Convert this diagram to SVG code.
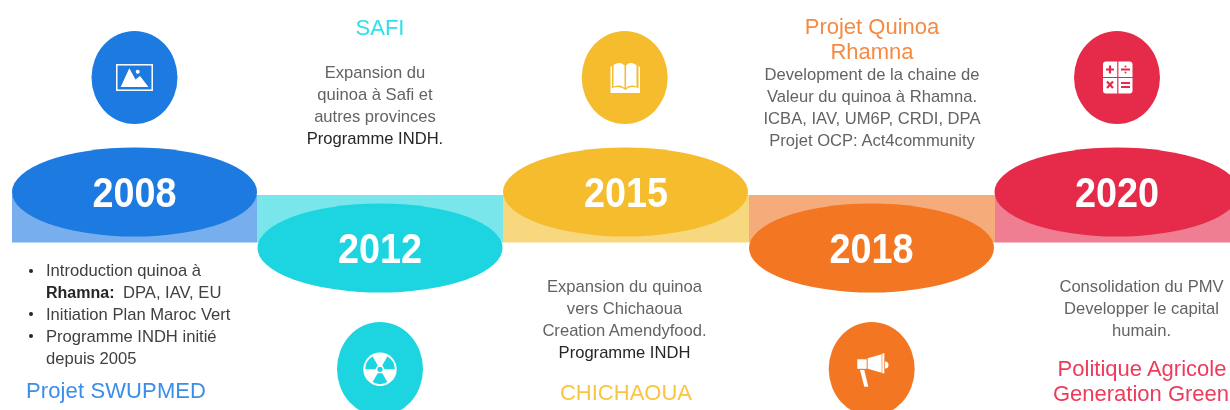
<svg xmlns="http://www.w3.org/2000/svg" width="1230" height="410" viewBox="0 0 1230 410">
<style>
text{font-family:"Liberation Sans",Arial,sans-serif}
.y{font-size:42px;font-weight:700;fill:#fff;text-anchor:middle}
.b{font-size:16.6px;fill:#636363;text-anchor:middle}
.l{font-size:16.6px;fill:#404040}
.h{font-size:22px;text-anchor:middle}
.w{fill:#fff}
.o{fill:none;stroke:#fff}
</style>
<defs>
<filter id="s" x="0" y="0" width="100%" height="100%"><feGaussianBlur stdDeviation="0.5"/></filter>
</defs>
<rect width="1230" height="410" fill="#fff"/>
<g filter="url(#s)">
<g id="connectors">
<rect x="12" y="195" width="245" height="47.500" fill="#76aeee"/>
<rect x="257" y="195" width="246" height="47.500" fill="#78e6ea"/>
<rect x="503" y="195" width="246" height="47.500" fill="#f8d87f"/>
<rect x="749" y="195" width="246" height="47.500" fill="#f6ac7a"/>
<rect x="995" y="195" width="235" height="47.500" fill="#f07e92"/>
</g>
<g id="node-2008">
<ellipse cx="134.500" cy="192" rx="122.500" ry="44.500" fill="#1c7ae0"/>
<text class="y" x="134.500" y="206.500" textLength="84" lengthAdjust="spacingAndGlyphs">2008</text>
<ellipse cx="134.500" cy="77.500" rx="43" ry="46.500" fill="#1c7ae0"/>
<rect x="116.800" y="64.800" width="35.400" height="25.400" class="o" stroke-width="1.500"/>
<path class="w" d="M120.700 87 L129.300 68.300 L135.500 79.500 L140 76 L148.500 87Z"/>
<circle class="w" cx="137.700" cy="71.700" r="2"/>
<text class="l"><tspan x="46" y="276">Introduction quinoa à</tspan><tspan x="46" y="298" font-weight="700" font-size="16" fill="#262626">Rhamna:</tspan><tspan x="123" y="298">DPA, IAV, EU</tspan><tspan x="46" y="320">Initiation Plan Maroc Vert</tspan><tspan x="46" y="342">Programme INDH initié</tspan><tspan x="46" y="364">depuis 2005</tspan></text>
<circle cx="31" cy="271" r="2" fill="#262626"/>
<circle cx="31" cy="314" r="2" fill="#262626"/>
<circle cx="31" cy="336" r="2" fill="#262626"/>
<text x="26" y="398" font-size="22" fill="#3a8ee8" textLength="180" lengthAdjust="spacing">Projet SWUPMED</text>
</g>
<g id="node-2012">
<ellipse cx="380" cy="248" rx="122.500" ry="44.500" fill="#1fd5e1"/>
<text class="y" x="380" y="262.500" textLength="84" lengthAdjust="spacingAndGlyphs">2012</text>
<ellipse cx="380" cy="369" rx="43" ry="47" fill="#1fd5e1"/>
<circle class="w" cx="380" cy="369.300" r="16.700"/>
<g transform="translate(380 369.300)" fill="#1fd5e1">
<path id="blade" d="M-2.300 4 L-7.400 12.800 A14.800 14.800 0 0 0 7.400 12.800 L2.300 4Z"/>
<path d="M-2.300 4 L-7.400 12.800 A14.800 14.800 0 0 0 7.400 12.800 L2.300 4Z" transform="rotate(120)"/>
<path d="M-2.300 4 L-7.400 12.800 A14.800 14.800 0 0 0 7.400 12.800 L2.300 4Z" transform="rotate(240)"/>
<circle r="2.600"/>
</g>
<text class="h" x="380" y="35" fill="#2fe0e8">SAFI</text>
<text class="b"><tspan x="375" y="78">Expansion du</tspan><tspan x="375" y="100">quinoa à Safi et</tspan><tspan x="375" y="122">autres provinces</tspan><tspan x="375" y="144" fill="#262626">Programme INDH.</tspan></text>
</g>
<g id="node-2015">
<ellipse cx="625.500" cy="192" rx="122.500" ry="44.500" fill="#f5bd2e"/>
<text class="y" x="626" y="206.500" textLength="84" lengthAdjust="spacingAndGlyphs">2015</text>
<ellipse cx="624.700" cy="77.500" rx="43" ry="46.500" fill="#f5bd2e"/>
<path class="w" d="M612 66 L610.500 67 V93 H640 V67 L638.500 66 V88 Q630 85 625.500 90 Q620 85 612 88Z"/>
<path class="w" d="M613.500 65 Q620 61 624.500 65.500 V88 Q620 84 613.500 86.500Z"/>
<path class="w" d="M636.500 65 Q630 61 626 65.500 V88 Q630 84 636.500 86.500Z"/>
<text class="b"><tspan x="624.500" y="292">Expansion du quinoa</tspan><tspan x="624.500" y="314">vers Chichaoua</tspan><tspan x="624.500" y="336">Creation Amendyfood.</tspan><tspan x="624.500" y="358" fill="#262626">Programme INDH</tspan></text>
<text class="h" x="626" y="400" fill="#f9c542">CHICHAOUA</text>
</g>
<g id="node-2018">
<ellipse cx="871.500" cy="248" rx="122.500" ry="44.500" fill="#f37724"/>
<text class="y" x="871.500" y="262.500" textLength="84" lengthAdjust="spacingAndGlyphs">2018</text>
<ellipse cx="871.700" cy="369" rx="43" ry="47" fill="#f37724"/>
<rect class="w" x="857.300" y="359.300" width="9.400" height="9.500"/>
<path class="w" d="M867.700 358.300 L881.700 354.300 V372.800 L867.700 368.800Z"/>
<rect class="w" x="882.300" y="353.300" width="2" height="20"/>
<path class="w" d="M885 361.500 A3.500 3.500 0 0 1 885 368.500Z"/>
<path class="w" d="M860 370 H864.300 L868.300 386.700 H864.300Z"/>
<text class="h" x="872" y="34" fill="#f58a42">Projet Quinoa</text>
<text class="h" x="872" y="59" fill="#f58a42">Rhamna</text>
<text class="b"><tspan x="872" y="80">Development de la chaine de</tspan><tspan x="872" y="102">Valeur du quinoa à Rhamna.</tspan><tspan x="872" y="124">ICBA, IAV, UM6P, CRDI, DPA</tspan><tspan x="872" y="146">Projet OCP: Act4community</tspan></text>
</g>
<g id="node-2020">
<ellipse cx="1117" cy="192" rx="122.500" ry="44.500" fill="#e62b4a"/>
<text class="y" x="1117" y="206.500" textLength="84" lengthAdjust="spacingAndGlyphs">2020</text>
<ellipse cx="1117" cy="77.500" rx="43" ry="46.500" fill="#e62b4a"/>
<rect class="w" x="1103" y="61.500" width="29.500" height="32" rx="3"/>
<path d="M1117.800 61 V94 M1102.500 77.500 H1133" stroke="#e62b4a" stroke-width="1.200"/>
<path d="M1106 69.500 H1114 M1110 65.500 V73.500 M1121 69.500 H1130 M1107 81.500 L1113 88 M1113 81.500 L1107 88 M1121 83 H1130 M1121 87 H1130" stroke="#e62b4a" stroke-width="2.200" fill="none"/>
<circle cx="1125.500" cy="66.500" r="1" fill="#e62b4a"/>
<circle cx="1125.500" cy="72.500" r="1" fill="#e62b4a"/>
<text class="b"><tspan x="1141.500" y="292">Consolidation du PMV</tspan><tspan x="1141.500" y="314">Developper le capital</tspan><tspan x="1141.500" y="336">humain.</tspan></text>
<text class="h" x="1142" y="375.500" fill="#ee3a5c">Politique Agricole</text>
<text class="h" x="1141" y="400.500" fill="#ee3a5c">Generation Green</text>
</g>
</g>
</svg>
